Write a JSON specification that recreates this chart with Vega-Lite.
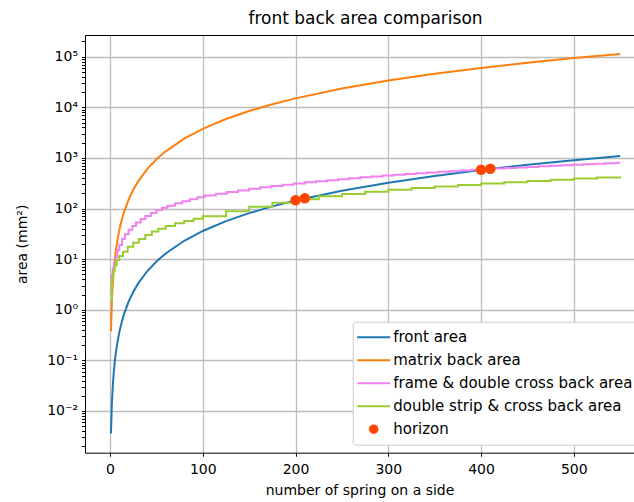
{
  "$schema": "https://vega.github.io/schema/vega-lite/v6.json",
  "autosize": {"type": "none"},
  "padding": {"left": 85, "top": 35, "right": 0, "bottom": 49.3},
  "width": 549,
  "height": 417.7,
  "title": {"text": "front back area comparison", "font": "DejaVu Sans", "fontSize": 17, "fontWeight": "normal", "color": "black", "anchor": "middle", "baseline": "alphabetic", "offset": -7, "dx": 6},
  "config": {
    "font": "DejaVu Sans",
    "view": {"stroke": null},
    "axis": {"domainColor": "black", "domainWidth": 1, "tickColor": "black", "tickWidth": 1, "labelColor": "black", "titleColor": "black", "labelFont": "DejaVu Sans", "titleFont": "DejaVu Sans", "labelFontSize": 14, "titleFontSize": 14, "titleFontWeight": "normal", "gridColor": "#bdbdbd", "gridWidth": 1.3}
  },
  "datasets": {
    "smooth": [
      {"series": "front area", "n": 1, "area": 0.0036}, {"series": "front area", "n": 2, "area": 0.0144}, {"series": "front area", "n": 3, "area": 0.0324}, {"series": "front area", "n": 4, "area": 0.0576}, {"series": "front area", "n": 5, "area": 0.09}, {"series": "front area", "n": 6, "area": 0.1296}, {"series": "front area", "n": 8, "area": 0.2304}, {"series": "front area", "n": 10, "area": 0.36}, {"series": "front area", "n": 12, "area": 0.518}, {"series": "front area", "n": 15, "area": 0.81}, {"series": "front area", "n": 20, "area": 1.44}, {"series": "front area", "n": 25, "area": 2.25}, {"series": "front area", "n": 30, "area": 3.24}, {"series": "front area", "n": 40, "area": 5.76}, {"series": "front area", "n": 50, "area": 9}, {"series": "front area", "n": 60, "area": 12.96}, {"series": "front area", "n": 80, "area": 23.04}, {"series": "front area", "n": 100, "area": 36}, {"series": "front area", "n": 125, "area": 56.25}, {"series": "front area", "n": 150, "area": 81}, {"series": "front area", "n": 175, "area": 110.25}, {"series": "front area", "n": 200, "area": 144}, {"series": "front area", "n": 250, "area": 225}, {"series": "front area", "n": 300, "area": 324}, {"series": "front area", "n": 350, "area": 441}, {"series": "front area", "n": 400, "area": 576}, {"series": "front area", "n": 450, "area": 729}, {"series": "front area", "n": 500, "area": 900}, {"series": "front area", "n": 550, "area": 1089},
      {"series": "matrix back area", "n": 1, "area": 0.375}, {"series": "matrix back area", "n": 2, "area": 1.5}, {"series": "matrix back area", "n": 3, "area": 3.375}, {"series": "matrix back area", "n": 4, "area": 6}, {"series": "matrix back area", "n": 5, "area": 9.375}, {"series": "matrix back area", "n": 6, "area": 13.5}, {"series": "matrix back area", "n": 8, "area": 24}, {"series": "matrix back area", "n": 10, "area": 37.5}, {"series": "matrix back area", "n": 12, "area": 54}, {"series": "matrix back area", "n": 15, "area": 84.4}, {"series": "matrix back area", "n": 20, "area": 150}, {"series": "matrix back area", "n": 25, "area": 234}, {"series": "matrix back area", "n": 30, "area": 337.5}, {"series": "matrix back area", "n": 40, "area": 600}, {"series": "matrix back area", "n": 50, "area": 937.5}, {"series": "matrix back area", "n": 60, "area": 1350}, {"series": "matrix back area", "n": 80, "area": 2400}, {"series": "matrix back area", "n": 100, "area": 3750}, {"series": "matrix back area", "n": 125, "area": 5859}, {"series": "matrix back area", "n": 150, "area": 8437}, {"series": "matrix back area", "n": 175, "area": 11484}, {"series": "matrix back area", "n": 200, "area": 15000}, {"series": "matrix back area", "n": 250, "area": 23437}, {"series": "matrix back area", "n": 300, "area": 33750}, {"series": "matrix back area", "n": 350, "area": 45937}, {"series": "matrix back area", "n": 400, "area": 60000}, {"series": "matrix back area", "n": 450, "area": 75937}, {"series": "matrix back area", "n": 500, "area": 93750}, {"series": "matrix back area", "n": 550, "area": 113437}
    ],
    "steps": [
      {"series": "frame & double cross back area", "n": 1, "area": 3}, {"series": "frame & double cross back area", "n": 2, "area": 5}, {"series": "frame & double cross back area", "n": 3, "area": 6.5}, {"series": "frame & double cross back area", "n": 4, "area": 8}, {"series": "frame & double cross back area", "n": 6, "area": 11}, {"series": "frame & double cross back area", "n": 8, "area": 15}, {"series": "frame & double cross back area", "n": 10, "area": 19}, {"series": "frame & double cross back area", "n": 13, "area": 25}, {"series": "frame & double cross back area", "n": 16, "area": 31}, {"series": "frame & double cross back area", "n": 20, "area": 38}, {"series": "frame & double cross back area", "n": 24, "area": 45}, {"series": "frame & double cross back area", "n": 28, "area": 53}, {"series": "frame & double cross back area", "n": 33, "area": 62}, {"series": "frame & double cross back area", "n": 38, "area": 71}, {"series": "frame & double cross back area", "n": 44, "area": 82}, {"series": "frame & double cross back area", "n": 50, "area": 94}, {"series": "frame & double cross back area", "n": 56, "area": 104}, {"series": "frame & double cross back area", "n": 62, "area": 114}, {"series": "frame & double cross back area", "n": 70, "area": 127}, {"series": "frame & double cross back area", "n": 78, "area": 140}, {"series": "frame & double cross back area", "n": 86, "area": 153}, {"series": "frame & double cross back area", "n": 94, "area": 167}, {"series": "frame & double cross back area", "n": 102, "area": 180}, {"series": "frame & double cross back area", "n": 114, "area": 196}, {"series": "frame & double cross back area", "n": 126, "area": 212}, {"series": "frame & double cross back area", "n": 138, "area": 228}, {"series": "frame & double cross back area", "n": 150, "area": 245}, {"series": "frame & double cross back area", "n": 162, "area": 262}, {"series": "frame & double cross back area", "n": 174, "area": 279}, {"series": "frame & double cross back area", "n": 186, "area": 295}, {"series": "frame & double cross back area", "n": 198, "area": 312}, {"series": "frame & double cross back area", "n": 210, "area": 329}, {"series": "frame & double cross back area", "n": 222, "area": 346}, {"series": "frame & double cross back area", "n": 234, "area": 363}, {"series": "frame & double cross back area", "n": 246, "area": 379}, {"series": "frame & double cross back area", "n": 258, "area": 396}, {"series": "frame & double cross back area", "n": 270, "area": 413}, {"series": "frame & double cross back area", "n": 282, "area": 430}, {"series": "frame & double cross back area", "n": 294, "area": 447}, {"series": "frame & double cross back area", "n": 306, "area": 463}, {"series": "frame & double cross back area", "n": 318, "area": 480}, {"series": "frame & double cross back area", "n": 330, "area": 497}, {"series": "frame & double cross back area", "n": 342, "area": 514}, {"series": "frame & double cross back area", "n": 354, "area": 531}, {"series": "frame & double cross back area", "n": 366, "area": 547}, {"series": "frame & double cross back area", "n": 378, "area": 564}, {"series": "frame & double cross back area", "n": 390, "area": 581}, {"series": "frame & double cross back area", "n": 402, "area": 598}, {"series": "frame & double cross back area", "n": 414, "area": 615}, {"series": "frame & double cross back area", "n": 426, "area": 631}, {"series": "frame & double cross back area", "n": 438, "area": 648}, {"series": "frame & double cross back area", "n": 450, "area": 665}, {"series": "frame & double cross back area", "n": 462, "area": 682}, {"series": "frame & double cross back area", "n": 474, "area": 699}, {"series": "frame & double cross back area", "n": 486, "area": 715}, {"series": "frame & double cross back area", "n": 498, "area": 732}, {"series": "frame & double cross back area", "n": 510, "area": 749}, {"series": "frame & double cross back area", "n": 522, "area": 766}, {"series": "frame & double cross back area", "n": 534, "area": 783}, {"series": "frame & double cross back area", "n": 546, "area": 799}, {"series": "frame & double cross back area", "n": 550, "area": 799},
      {"series": "double strip & cross back area", "n": 1, "area": 1.5}, {"series": "double strip & cross back area", "n": 2, "area": 4}, {"series": "double strip & cross back area", "n": 3, "area": 5.7}, {"series": "double strip & cross back area", "n": 5, "area": 7.5}, {"series": "double strip & cross back area", "n": 7, "area": 9.6}, {"series": "double strip & cross back area", "n": 10, "area": 11.5}, {"series": "double strip & cross back area", "n": 14, "area": 14}, {"series": "double strip & cross back area", "n": 19, "area": 17.5}, {"series": "double strip & cross back area", "n": 25, "area": 21}, {"series": "double strip & cross back area", "n": 31, "area": 25}, {"series": "double strip & cross back area", "n": 38, "area": 30}, {"series": "double strip & cross back area", "n": 45, "area": 35}, {"series": "double strip & cross back area", "n": 52, "area": 40}, {"series": "double strip & cross back area", "n": 60, "area": 45}, {"series": "double strip & cross back area", "n": 70, "area": 51}, {"series": "double strip & cross back area", "n": 80, "area": 57}, {"series": "double strip & cross back area", "n": 90, "area": 63}, {"series": "double strip & cross back area", "n": 100, "area": 70}, {"series": "double strip & cross back area", "n": 125, "area": 88}, {"series": "double strip & cross back area", "n": 150, "area": 108}, {"series": "double strip & cross back area", "n": 175, "area": 130}, {"series": "double strip & cross back area", "n": 200, "area": 152}, {"series": "double strip & cross back area", "n": 225, "area": 174}, {"series": "double strip & cross back area", "n": 250, "area": 194}, {"series": "double strip & cross back area", "n": 275, "area": 214}, {"series": "double strip & cross back area", "n": 300, "area": 234}, {"series": "double strip & cross back area", "n": 325, "area": 254}, {"series": "double strip & cross back area", "n": 350, "area": 273}, {"series": "double strip & cross back area", "n": 375, "area": 293}, {"series": "double strip & cross back area", "n": 400, "area": 312}, {"series": "double strip & cross back area", "n": 425, "area": 332}, {"series": "double strip & cross back area", "n": 450, "area": 351}, {"series": "double strip & cross back area", "n": 475, "area": 371}, {"series": "double strip & cross back area", "n": 500, "area": 390}, {"series": "double strip & cross back area", "n": 525, "area": 410}, {"series": "double strip & cross back area", "n": 550, "area": 429}
    ],
    "horizon": [
      {"series": "horizon", "n": 200, "area": 146}, {"series": "horizon", "n": 210, "area": 160}, {"series": "horizon", "n": 400, "area": 585}, {"series": "horizon", "n": 410, "area": 612}
    ]
  },
  "resolve": {"axis": {"x": "independent", "y": "independent"}},
  "layer": [
    {
      "data": {"name": "smooth"},
      "mark": {"type": "line", "strokeWidth": 2, "clip": true},
      "encoding": {
        "x": {"field": "n", "type": "quantitative", "scale": {"domain": [-27, 564.9], "nice": false, "zero": false},
          "axis": {"orient": "bottom", "values": [0, 100, 200, 300, 400, 500], "grid": true, "tickSize": 3.5, "labelPadding": 6.5, "title": "number of spring on a side", "titlePadding": 7, "labelFlush": false, "labelOverlap": false}},
        "y": {"field": "area", "type": "quantitative", "scale": {"type": "log", "domain": [0.0015, 268000], "nice": false},
          "axis": {"orient": "left", "grid": false, "labelOverlap": false, "labelBound": false, "labelFlush": false, "tickSize": 3.5, "labelPadding": 4,
            "values": [0.002, 0.003, 0.004, 0.005, 0.006, 0.007, 0.008, 0.009, 0.01, 0.02, 0.03, 0.04, 0.05, 0.06, 0.07, 0.08, 0.09, 0.1, 0.2, 0.3, 0.4, 0.5, 0.6, 0.7, 0.8, 0.9, 1, 2, 3, 4, 5, 6, 7, 8, 9, 10, 20, 30, 40, 50, 60, 70, 80, 90, 100, 200, 300, 400, 500, 600, 700, 800, 900, 1000, 2000, 3000, 4000, 5000, 6000, 7000, 8000, 9000, 10000, 20000, 30000, 40000, 50000, 60000, 70000, 80000, 90000, 100000, 200000],
            "labelExpr": "abs(log(datum.value)/LN10 - round(log(datum.value)/LN10)) > 0.01 ? '' : ['10⁻²','10⁻¹','10⁰','10¹','10²','10³','10⁴','10⁵'][round(log(datum.value)/LN10) + 2]",
            "title": "area (mm²)", "titleAngle": -90, "titleAlign": "center", "titleBaseline": "middle", "titleX": -63, "titleY": 208.85,
            "encode": {
              "ticks": {"update": {"x2": {"signal": "abs(log(datum.value)/LN10 - round(log(datum.value)/LN10)) > 0.01 ? -2 : -3.5"}}}
            }}},
        "color": {"field": "series", "type": "nominal",
          "scale": {"domain": ["front area", "matrix back area", "frame & double cross back area", "double strip & cross back area", "horizon"], "range": ["#1f77b4", "#ff7f0e", "#ee82ee", "#9acd32", "#ff4500"]},
          "legend": {"orient": "none", "legendX": 267.7, "legendY": 286.7, "title": null, "labelFont": "DejaVu Sans", "labelFontSize": 15, "labelColor": "black", "symbolType": "stroke", "symbolSize": 1089, "symbolStrokeWidth": 2, "symbolOffset": 9.5, "labelOffset": 12, "padding": 4, "rowPadding": 0, "clipHeight": 23, "fillColor": "#ffffff", "strokeColor": "#cccccc", "cornerRadius": 3, "labelLimit": 400,
            "encode": {"symbols": {"update": {
              "shape": {"signal": "datum.value === 'horizon' ? 'circle' : 'stroke'"},
              "size": {"signal": "datum.value === 'horizon' ? 90 : 1089"},
              "stroke": {"scale": "color", "field": "value"},
              "fill": {"scale": "color", "field": "value"},
              "strokeWidth": {"signal": "datum.value === 'horizon' ? 0 : 2"},
              "opacity": {"value": 1}
            }}}}}
      }
    },
    {
      "data": {"name": "steps"},
      "mark": {"type": "line", "strokeWidth": 2, "interpolate": "step-after", "clip": true},
      "encoding": {
        "x": {"field": "n", "type": "quantitative", "axis": {"orient": "top", "grid": false, "ticks": false, "labels": false, "title": null}},
        "y": {"field": "area", "type": "quantitative", "axis": {"orient": "left", "values": [0.01, 0.1, 1, 10, 100, 1000, 10000, 100000], "grid": true, "labels": false, "ticks": false, "domain": false, "title": null}},
        "color": {"field": "series", "type": "nominal"}
      }
    },
    {
      "data": {"name": "horizon"},
      "mark": {"type": "point", "filled": true, "opacity": 1, "size": 110, "clip": true},
      "encoding": {
        "x": {"field": "n", "type": "quantitative", "axis": null},
        "y": {"field": "area", "type": "quantitative", "axis": null},
        "color": {"field": "series", "type": "nominal"}
      }
    }
  ]
}
